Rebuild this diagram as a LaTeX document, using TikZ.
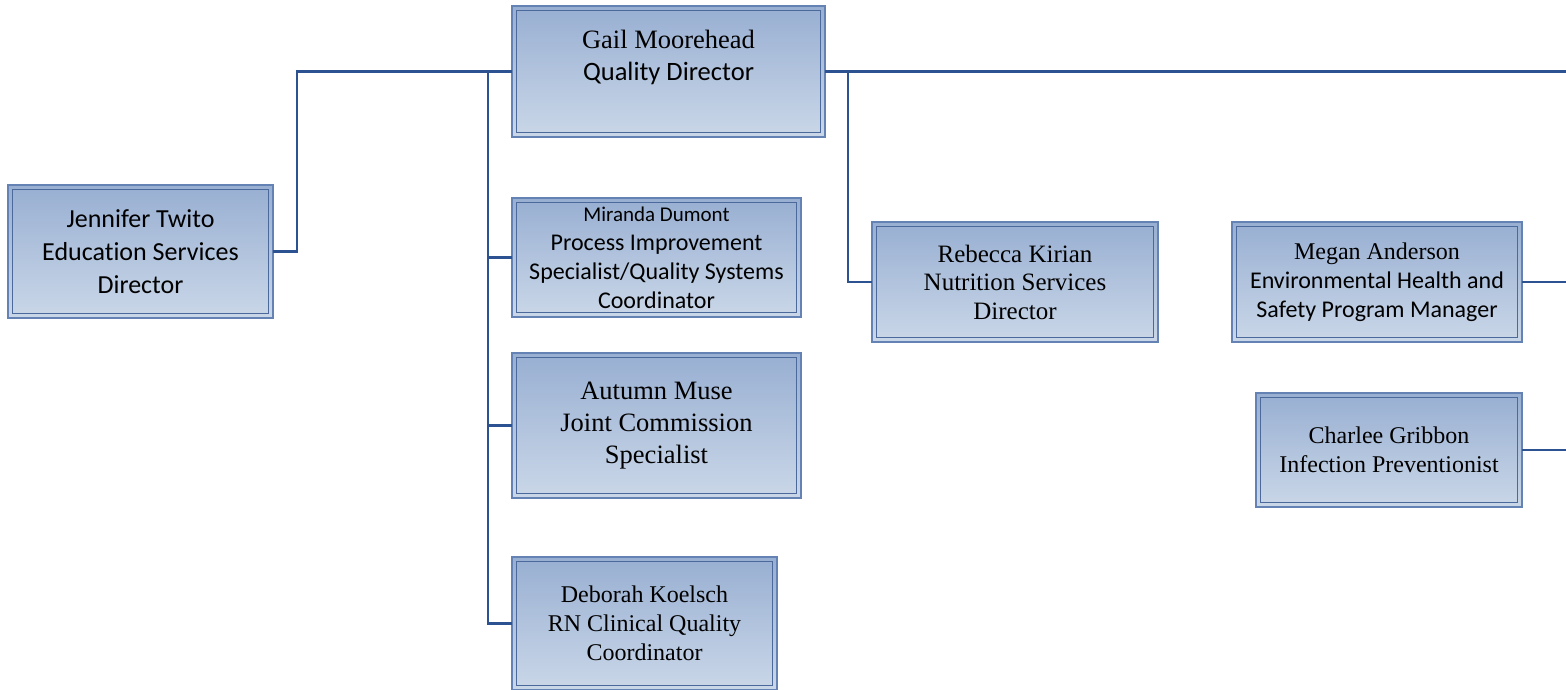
\documentclass[tikz,border=0pt]{standalone}
\usepackage{fontspec}
\setmainfont{Liberation Serif}
\newfontfamily\calfont[Ligatures=NoCommon]{Carlito}
\definecolor{boxtop}{RGB}{152,175,210}
\definecolor{boxbot}{RGB}{202,215,232}
\definecolor{boxline}{RGB}{100,130,180}
\definecolor{innerline}{RGB}{75,105,155}
\definecolor{connc}{RGB}{44,82,145}
\tikzset{
  orgbox/.style={rectangle, draw=boxline, line width=1.4pt, top color=boxtop, bottom color=boxbot,
    inner sep=0pt, outer sep=0pt, align=center, text=black,
    path picture={\draw[innerline, line width=1.1pt]
      ([shift={(4.5pt,-4.5pt)}]path picture bounding box.north west) rectangle
      ([shift={(-4.5pt,4.5pt)}]path picture bounding box.south east);}},
  plaintext/.style={inner sep=0pt, align=center, text=black},
  conn/.style={draw=connc, line width=2.8pt, line join=miter},
}
\begin{document}
\begin{tikzpicture}[x=1pt, y=-1pt]
\useasboundingbox (0,0) rectangle (1566,689);
% boxes
\node[orgbox, minimum width=313pt, minimum height=131pt] (gail) at (668.5,71.5) {};
\node[plaintext, font=\fontsize{26.5}{32}\selectfont] (gailtext) at (668.5,57) {Gail Moorehead\\{\calfont Quality Director}};
\node[orgbox, minimum width=265pt, minimum height=133pt, font=\calfont\fontsize{26}{33}\selectfont] (jen) at (140.5,251.5) {Jennifer Twito\\Education Services\\Director};
\node[orgbox, minimum width=289pt, minimum height=119pt, font=\calfont\fontsize{24}{29}\selectfont] (mir) at (656.5,257.5) {{\fontsize{21}{29}\selectfont Miranda Dumont}\\Process Improvement\\Specialist/Quality Systems\\Coordinator};
\node[orgbox, minimum width=289pt, minimum height=145pt, font=\fontsize{26.5}{32}\selectfont] (aut) at (656.5,425.5) {Autumn Muse\\Joint Commission\\Specialist};
\node[orgbox, minimum width=265pt, minimum height=133pt, font=\fontsize{24}{29}\selectfont] (deb) at (644.5,623.5) {Deborah Koelsch\\RN Clinical Quality\\Coordinator};
\node[orgbox, minimum width=286pt, minimum height=120pt, font=\fontsize{25}{28.5}\selectfont] (reb) at (1015,282) {Rebecca Kirian\\Nutrition Services\\Director};
\node[orgbox, minimum width=290pt, minimum height=120pt, font=\fontsize{24}{29}\selectfont] (meg) at (1377,282) {Megan Anderson\\{\calfont Environmental Health and}\\{\calfont Safety Program Manager}};
\node[orgbox, minimum width=266pt, minimum height=114pt, font=\fontsize{24}{29}\selectfont] (cha) at (1389,450) {Charlee Gribbon\\Infection Preventionist};
% junction points
\coordinate (jl) at (297,71.5);
\coordinate (tl) at (488,71.5);
\coordinate (tr) at (848,71.5);
\coordinate (edge) at (1570,71.5);
% connectors
\draw[conn] (gail.west) -- (jl) |- (jen.east);
\draw[conn] (tl) |- (mir.west);
\draw[conn] (tl) |- (aut.west);
\draw[conn] (tl) |- (deb.west);
\draw[conn] (gail.east) -- (edge);
\draw[conn] (tr) |- (reb.west);
\draw[conn] (meg.east) -- (meg.east -| edge);
\draw[conn] (cha.east) -- (cha.east -| edge);
\end{tikzpicture}
\end{document}
